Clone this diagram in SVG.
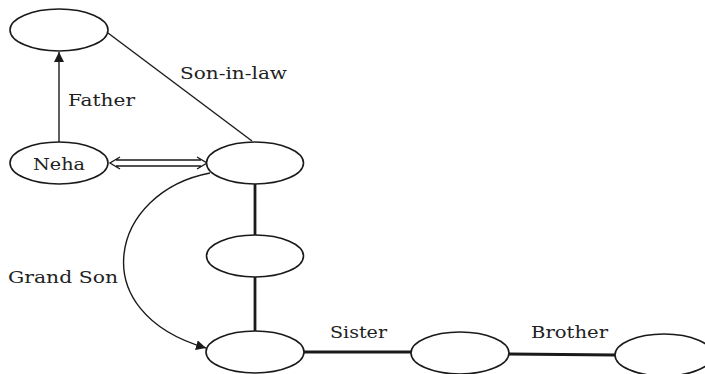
<svg xmlns="http://www.w3.org/2000/svg" width="705" height="374" viewBox="0 0 705 374">
<style>
.node{fill:#fff;stroke:#1a1a1a;stroke-width:1.6}
.thin{fill:none;stroke:#1a1a1a;stroke-width:1.4}
.thick{fill:none;stroke:#1a1a1a;stroke-width:2.8}
text{font-family:"DejaVu Serif","Liberation Serif",serif;font-size:17px;fill:#222}
</style>
<defs>
<marker id="tri" viewBox="0 0 10 10" refX="10" refY="5" markerWidth="10" markerHeight="10" markerUnits="userSpaceOnUse" orient="auto">
<path d="M0,0 L10,5 L0,10 Z" fill="#1a1a1a"/>
</marker>
</defs>
<rect width="705" height="374" fill="#fff"/>
<g id="connectors">
<line class="thin" x1="59" y1="142" x2="59" y2="52" marker-end="url(#tri)"/>
<line class="thin" x1="108" y1="33" x2="252" y2="141"/>
<path class="thin" d="M116,160 H201 M116,166 H201 M120,157 L110,163 L120,169 M197,157 L207,163 L197,169"/>
<path class="thin" d="M210,173 C110,192 82,312 206,348" marker-end="url(#tri)"/>
<line class="thick" x1="255" y1="184" x2="255" y2="235"/>
<line class="thick" x1="255" y1="277" x2="255" y2="331"/>
<line class="thick" x1="304" y1="352" x2="411" y2="352"/>
<line class="thick" x1="509" y1="354" x2="615" y2="355"/>
</g>
<g id="n-top"><ellipse class="node" cx="59" cy="30" rx="49" ry="21"/></g>
<g id="n-neha"><ellipse class="node" cx="59" cy="163" rx="49" ry="21"/><text x="33" y="170" textLength="52" lengthAdjust="spacingAndGlyphs">Neha</text></g>
<g id="n-mid"><ellipse class="node" cx="255" cy="163" rx="48.5" ry="21"/></g>
<g id="n-4"><ellipse class="node" cx="255" cy="256" rx="48.5" ry="21"/></g>
<g id="n-5"><ellipse class="node" cx="255" cy="352" rx="49" ry="21"/></g>
<g id="n-sister"><ellipse class="node" cx="460" cy="353" rx="49" ry="21"/></g>
<g id="n-brother"><ellipse class="node" cx="664" cy="355" rx="49" ry="21"/></g>
<g id="labels">
<text x="68" y="106" textLength="67" lengthAdjust="spacingAndGlyphs">Father</text>
<text x="180" y="79" textLength="107" lengthAdjust="spacingAndGlyphs">Son-in-law</text>
<text x="8" y="283" textLength="110" lengthAdjust="spacingAndGlyphs">Grand Son</text>
<text x="330" y="338" textLength="57" lengthAdjust="spacingAndGlyphs">Sister</text>
<text x="531" y="338" textLength="77" lengthAdjust="spacingAndGlyphs">Brother</text>
</g>
</svg>
